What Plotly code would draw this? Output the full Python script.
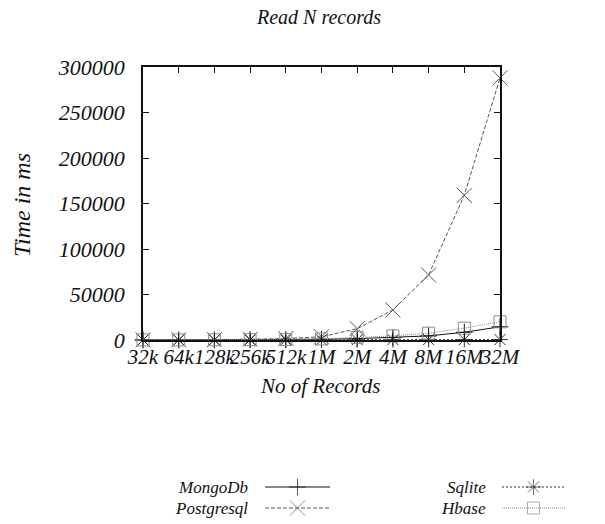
import plotly.graph_objects as go

categories = ["32k", "64k", "128k", "256k", "512k", "1M", "2M", "4M", "8M", "16M", "32M"]
mongodb = [60, 90, 150, 250, 450, 800, 1500, 2600, 4500, 8500, 14500]
postgresql = [100, 200, 400, 800, 1600, 3500, 12500, 33000, 71500, 159000, 288000]
sqlite = [30, 40, 60, 80, 120, 200, 300, 350, 400, 450, 500]
hbase = [80, 120, 200, 350, 600, 1200, 2800, 4500, 7500, 13000, 20000]
y_ticks = [0, 50000, 100000, 150000, 200000, 250000, 300000]

W, H = 605, 524
OFF = 8  # page body margin shifts the figure by this much
L, R, T, B = 143 - OFF, 500 - OFF, 67 - OFF, 340 - OFF
FONT = "Liberation Serif"

x_idx = list(range(len(categories)))

series = [
    ("MongoDb", mongodb, "#111111", "solid", "cross-thin-open", 12),
    ("Postgresql", postgresql, "#555555", "4px,2px", "x-thin-open", 15),
    ("Sqlite", sqlite, "#333333", "2px,2px", "asterisk-open", 13),
    ("Hbase", hbase, "#8a8a8a", "1px,1px", "square-open", 12),
]

fig = go.Figure()
for name, vals, col, dash, sym, sz in series:
    fig.add_trace(go.Scatter(
        x=x_idx, y=vals, mode="lines+markers", name=name,
        line=dict(color=col, width=1, dash=dash),
        marker=dict(symbol=sym, size=sz, color=col, line=dict(color=col, width=1)),
        showlegend=False, cliponaxis=False,
    ))

# gnuplot-style key: text, then line sample with marker (figure pixel coords)
legend_pos = {
    "MongoDb": (242, 257, 322, 479),
    "Sqlite": (480, 494, 557, 479),
    "Postgresql": (242, 257, 322, 500),
    "Hbase": (480, 494, 557, 500),
}
for name, vals, col, dash, sym, sz in series:
    tx, x0, x1, yy = legend_pos[name]
    fig.add_trace(go.Scatter(
        x=[x0, (x0 + x1) / 2, x1], y=[yy, yy, yy], mode="lines+markers",
        line=dict(color=col, width=1, dash=dash),
        marker=dict(symbol=sym, size=[0, sz, 0], color=col, line=dict(color=col, width=1)),
        xaxis="x2", yaxis="y2", showlegend=False, hoverinfo="skip", cliponaxis=False,
    ))
    fig.add_annotation(x=tx, y=yy, xref="x2", yref="y2", text=name, showarrow=False,
                       xanchor="right", yanchor="middle",
                       font=dict(family=FONT, size=17, color="#111", style="italic"))

axis_font = dict(family=FONT, size=22, color="#111", style="italic")
fig.update_layout(
    width=W, height=H,
    margin=dict(l=0, r=0, t=0, b=0, pad=0, autoexpand=False),
    paper_bgcolor="white", plot_bgcolor="rgba(0,0,0,0)",
    showlegend=False,
    xaxis=dict(
        domain=[L / W, R / W], range=[0, len(categories) - 1],
        tickvals=x_idx, ticktext=categories,
        tickfont=dict(family=FONT, size=21, color="#111", style="italic"), tickangle=0,
        ticks="inside", ticklen=6, tickcolor="#111", mirror="ticks",
        showline=True, linecolor="#111", linewidth=1.5, showgrid=False, zeroline=False,
        ticklabelstandoff=-3, automargin=False,
    ),
    yaxis=dict(
        domain=[1 - B / H, 1 - T / H], range=[0, 300000],
        tickvals=y_ticks, ticktext=[str(v) for v in y_ticks], tickfont=axis_font,
        ticks="inside", ticklen=6, tickcolor="#111", mirror="ticks",
        showline=True, linecolor="#111", linewidth=1.5, showgrid=False, zeroline=False,
        ticklabelstandoff=12, automargin=False,
    ),
    xaxis2=dict(domain=[0, 1], range=[0, W], visible=False, anchor="y2", fixedrange=True),
    yaxis2=dict(domain=[0, 1], range=[H, 0], visible=False, anchor="x2", fixedrange=True),
)
fig.add_annotation(x=310 / W, y=1, xref="paper", yref="paper", text="Read N records",
                   xanchor="center", yanchor="middle", yshift=-9, showarrow=False,
                   font=dict(family=FONT, size=20, color="#111", style="italic"))
fig.add_annotation(x=312, y=378, xref="x2", yref="y2", text="No of Records",
                   showarrow=False, font=dict(family=FONT, size=21, color="#111", style="italic"))
fig.add_annotation(x=14, y=197, xref="x2", yref="y2", text="Time in ms", textangle=-90,
                   showarrow=False, font=dict(family=FONT, size=24, color="#111", style="italic"))

fig.write_html("out.html")
